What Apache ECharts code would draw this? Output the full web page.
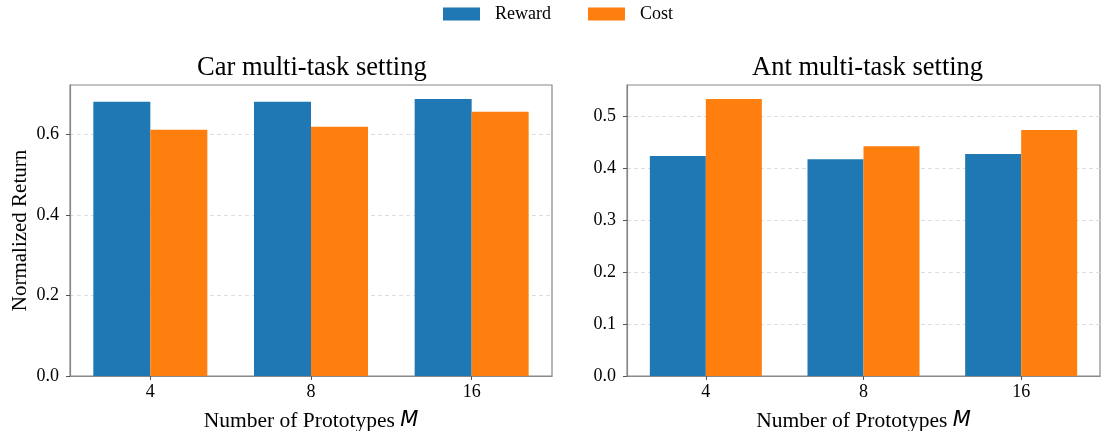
<!DOCTYPE html>
<html>
<head>
<meta charset="utf-8">
<script src="https://cdn.jsdelivr.net/npm/echarts@6/dist/echarts.min.js"></script>
<style>
  html, body { margin: 0; padding: 0; background: #fff; }
  #chart { width: 1101px; height: 431px; }
</style>
</head>
<body>
<div id="chart"></div>
<script>
// 数据
var categories = ['4', '8', '16']
var carReward = [0.682, 0.682, 0.689]
var carCost = [0.612, 0.620, 0.657]
var antReward = [0.423, 0.417, 0.427]
var antCost = [0.533, 0.442, 0.473]
var carTicks = [0, 0.2, 0.4, 0.6]
var antTicks = [0, 0.1, 0.2, 0.3, 0.4, 0.5]

var serif = '"Liberation Serif", "Times New Roman", serif'
var blue = '#1f77b4'
var orange = '#ff7f0e'

function yAxisFor(gridIndex, ticks, max, interval, withName) {
  return {
    type: 'value',
    gridIndex: gridIndex,
    min: 0,
    max: max,
    interval: interval,
    name: withName ? 'Normalized Return' : '',
    nameLocation: 'middle',
    nameGap: 39,
    nameTextStyle: { fontFamily: serif, fontSize: 21, color: '#000' },
    axisLine: { show: true, lineStyle: { color: '#888', width: 1.2 } },
    axisTick: { show: true, length: 4, customValues: ticks, lineStyle: { color: '#555' } },
    axisLabel: {
      customValues: ticks,
      margin: 11,
      fontFamily: serif,
      fontSize: 18,
      color: '#000',
      formatter: function (v) { return v.toFixed(1) },
    },
    splitLine: { show: true, lineStyle: { type: [4, 3], color: '#dedede', width: 1 } },
  }
}

function xAxisFor(gridIndex) {
  return {
    type: 'category',
    gridIndex: gridIndex,
    data: categories,
    name: 'Number of Prototypes {m|M}',
    nameLocation: 'middle',
    nameGap: 34,
    nameTextStyle: {
      fontFamily: serif,
      fontSize: 21.5,
      color: '#000',
      rich: {
        m: { fontFamily: '"DejaVu Sans"', fontStyle: 'italic', fontSize: 21, color: '#000' },
      },
    },
    axisLine: { show: true, lineStyle: { color: '#888', width: 1.2 } },
    axisTick: { show: true, alignWithLabel: true, length: 4, lineStyle: { color: '#555' } },
    axisLabel: { margin: 7, fontFamily: serif, fontSize: 18, color: '#000' },
    splitLine: { show: false },
  }
}

function barSeries(name, color, data, idx, width) {
  return {
    name: name,
    type: 'bar',
    xAxisIndex: idx,
    yAxisIndex: idx,
    barWidth: width,
    barGap: '0%',
    itemStyle: { color: color },
    data: data,
  }
}

var chart = echarts.init(document.getElementById('chart'))
var option = {
  backgroundColor: '#fff',
  animation: false,
  title: [
    {
      text: 'Car multi-task setting',
      left: 192,
      top: 50,
      textStyle: { fontFamily: serif, fontSize: 26.5, fontWeight: 'normal', color: '#000' },
    },
    {
      text: 'Ant multi-task setting',
      left: 747,
      top: 50,
      textStyle: { fontFamily: serif, fontSize: 26.5, fontWeight: 'normal', color: '#000' },
    },
  ],
  legend: {
    top: 0,
    left: 438,
    icon: 'rect',
    itemWidth: 37,
    itemHeight: 13,
    itemGap: 37,
    textStyle: { fontFamily: serif, fontSize: 18, color: '#000', padding: [0, 0, 0, 10] },
    data: ['Reward', 'Cost'],
  },
  grid: [
    { left: 70, right: 549, top: 85, bottom: 55, show: true, borderColor: '#888', borderWidth: 1.2, containLabel: false, outerBoundsMode: 'none' },
    { left: 627, right: 1, top: 85, bottom: 55, show: true, borderColor: '#888', borderWidth: 1.2, containLabel: false, outerBoundsMode: 'none' },
  ],
  xAxis: [xAxisFor(0), xAxisFor(1)],
  yAxis: [
    yAxisFor(0, carTicks, 0.7235, 0.2, true),
    yAxisFor(1, antTicks, 0.5597, 0.1, false),
  ],
  series: [
    barSeries('Reward', blue, carReward, 0, 57),
    barSeries('Cost', orange, carCost, 0, 57),
    barSeries('Reward', blue, antReward, 1, 56),
    barSeries('Cost', orange, antCost, 1, 56),
  ],
}
chart.setOption(option)
</script>
</body>
</html>
